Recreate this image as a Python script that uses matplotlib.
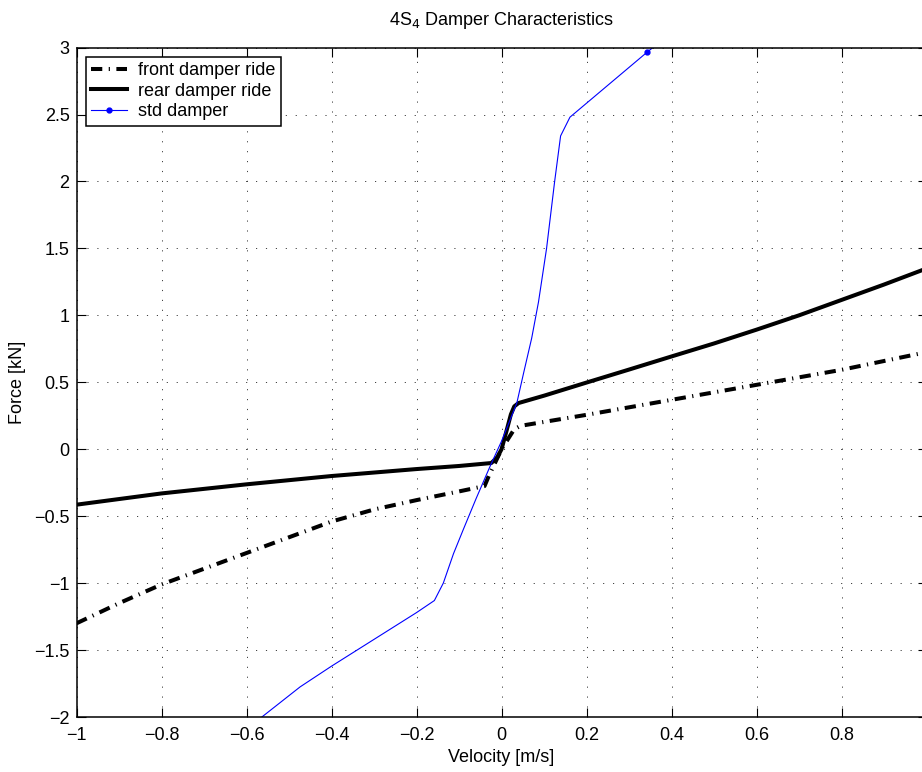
#!/usr/bin/env python

import numpy as np
import matplotlib
matplotlib.use("Agg")
import matplotlib.pyplot as plt
from matplotlib.ticker import FuncFormatter

plt.rcParams['font.family'] = ['Liberation Sans', 'DejaVu Sans']

# front damper ride (dash-dot)
front_v = [-1.0, -0.9, -0.8, -0.6, -0.4, -0.3, -0.2, -0.1, -0.04, -0.03,
           0.0, 0.03, 0.045, 0.2, 0.4, 0.6, 0.8, 1.0]
front_f = [-1.30, -1.15, -1.01, -0.775, -0.54, -0.45, -0.38, -0.315, -0.275, -0.2,
           0.0, 0.15, 0.175, 0.257, 0.369, 0.481, 0.593, 0.725]

# rear damper ride (solid)
rear_v = [-1.0, -0.8, -0.6, -0.4, -0.2, -0.1, -0.024, -0.01, 0.0, 0.012, 0.022,
          0.03, 0.04, 0.1, 0.2, 0.3, 0.4, 0.5, 0.6, 0.7, 0.8, 0.9, 1.0]
rear_f = [-0.414, -0.33, -0.262, -0.2, -0.148, -0.125, -0.103, -0.06, 0.0, 0.14, 0.26,
          0.32, 0.345, 0.40, 0.498, 0.595, 0.693, 0.79, 0.893, 1.0, 1.115, 1.23, 1.35]

# std damper (blue)
std_v = [-0.6, -0.474, -0.4, -0.3, -0.2, -0.158, -0.137, -0.113, -0.09, -0.06, -0.027,
         0.0, 0.036, 0.052, 0.071, 0.087, 0.106, 0.125, 0.139, 0.161, 0.342, 0.36]
std_f = [-2.09, -1.775, -1.62, -1.42, -1.22, -1.13, -1.0, -0.78, -0.6, -0.37, -0.128,
         0.06, 0.345, 0.57, 0.83, 1.1, 1.5, 2.0, 2.34, 2.48, 2.964, 3.01]
std_marker_idx = [20]

x_ticks = [-1.0, -0.8, -0.6, -0.4, -0.2, 0.0, 0.2, 0.4, 0.6, 0.8, 1.0]
x_labels = ['\u22121', '\u22120.8', '\u22120.6', '\u22120.4', '\u22120.2',
            '0', '0.2', '0.4', '0.6', '0.8', '']
y_ticks = [-2.0, -1.5, -1.0, -0.5, 0.0, 0.5, 1.0, 1.5, 2.0, 2.5, 3.0]

fig = plt.figure(figsize=(9.22, 7.72), dpi=100)
ax = fig.add_axes([0.083, 0.0712, 0.9219, 0.8672])

ax.plot(front_v, front_f, color='k', lw=2.9,
        linestyle=(0, (2.8, 1.6, 0.3, 1.6)), label='front damper ride')
ax.plot(rear_v, rear_f, color='k', lw=2.9, label='rear damper ride')
ax.plot(std_v, std_f, color='#0000ff', lw=0.8, marker='.', markersize=7,
        markevery=std_marker_idx, label='std damper')

ax.set_xlim(-1, 1)
ax.set_ylim(-2, 3)
ax.set_xticks(x_ticks)
ax.set_xticklabels(x_labels)
ax.set_yticks(y_ticks)
ax.yaxis.set_major_formatter(FuncFormatter(
    lambda v, p: ('%g' % (round(v, 2) + 0.0)).replace('-', '\u2212')))
ax.tick_params(direction='in', length=6.5, width=0.8, labelsize=13,
               top=True, right=True, pad=5)
ax.tick_params(axis='x', pad=7)
for s in ax.spines.values():
    s.set_linewidth(1.1)

ax.grid(True, color='0.25', linestyle=(0, (1.2, 9)), linewidth=0.7)

ax.set_title('4S$_4$ Damper Characteristics', fontsize=13, pad=16)
ax.set_xlabel('Velocity [m/s]', fontsize=13, labelpad=4)
ax.set_ylabel('Force [kN]', fontsize=13, labelpad=6)

leg = ax.legend(loc='upper left', fontsize=13, fancybox=False, framealpha=1,
                edgecolor='k', borderaxespad=0.5, handlelength=2.0,
                handletextpad=0.6, labelspacing=0.2, borderpad=0.3)
leg.get_frame().set_linewidth(1.1)

fig.savefig('out.png', dpi=100)
